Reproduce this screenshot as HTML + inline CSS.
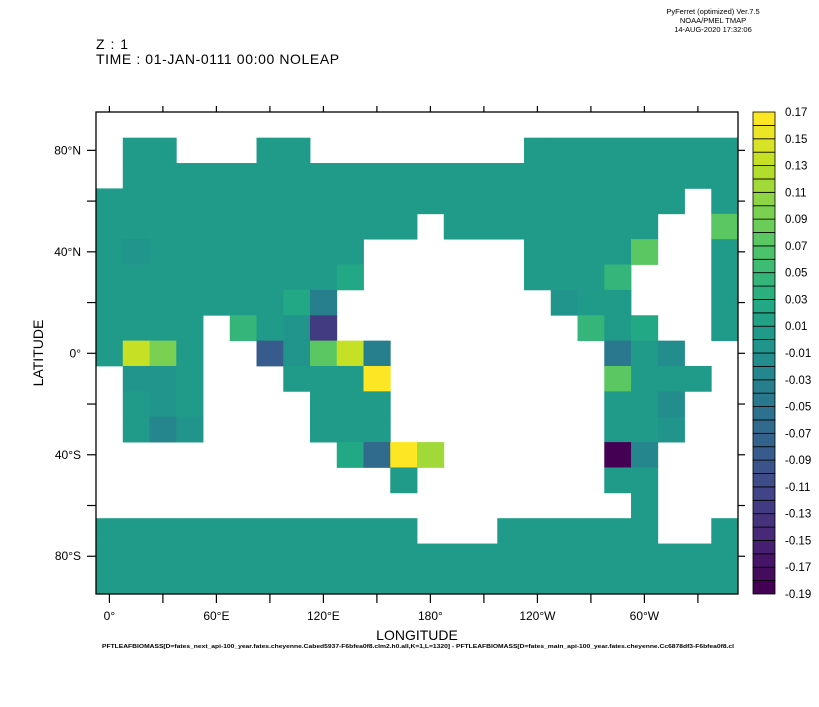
<!DOCTYPE html>
<html><head><meta charset="utf-8"><style>
html,body{margin:0;padding:0;background:#fff;}
svg{display:block;font-family:"Liberation Sans",sans-serif;}
</style></head><body>
<svg id="chart" width="819" height="707" viewBox="0 0 819 707" xmlns="http://www.w3.org/2000/svg">
<g id="header">
<text x="713" y="14" font-size="7.5" text-anchor="middle">PyFerret (optimized) Ver.7.5</text>
<text x="713" y="23" font-size="7.5" text-anchor="middle">NOAA/PMEL TMAP</text>
<text x="713" y="32" font-size="7.5" text-anchor="middle">14-AUG-2020 17:32:06</text>
<text x="96" y="49" font-size="14" letter-spacing="1">Z : 1</text>
<text x="96" y="64" font-size="14" letter-spacing="0.6">TIME : 01-JAN-0111 00:00 NOLEAP</text>
</g>
<g id="cells"></g>
<g id="axes"></g>
<g id="cbar"></g>
<text x="417" y="640" font-size="14" text-anchor="middle">LONGITUDE</text>
<text x="43" y="353" font-size="14" text-anchor="middle" transform="rotate(-90 43 353)">LATITUDE</text>
<text x="418" y="648" font-size="5.2" font-weight="bold" text-anchor="middle" textLength="632" lengthAdjust="spacingAndGlyphs">PFTLEAFBIOMASS[D=fates_next_api-100_year.fates.cheyenne.Cabed5937-F6bfea0f8.clm2.h0.all,K=1,L=1320] - PFTLEAFBIOMASS[D=fates_main_api-100_year.fates.cheyenne.Cc6878df3-F6bfea0f8.cl</text>
</svg>
<script>
const n = null, t = 0.005;
const lons = [0,15,30,45,60,75,90,105,120,135,150,165,180,195,210,225,240,255,270,285,300,315,330,345];
const lats = [90,80,70,60,50,40,30,20,10,0,-10,-20,-30,-40,-50,-60,-70,-80,-90];
const values = [
[n,n,n,n,n,n,n,n,n,n,n,n,n,n,n,n,n,n,n,n,n,n,n,n],
[n,t,t,n,n,n,t,t,n,n,n,n,n,n,n,n,t,t,t,t,t,t,t,t],
[n,t,t,t,t,t,t,t,t,t,t,t,t,t,t,t,t,t,t,t,t,t,t,t],
[t,t,t,t,t,t,t,t,t,t,t,t,t,t,t,t,t,t,t,t,t,t,n,t],
[t,t,t,t,t,t,t,t,t,t,t,t,n,t,t,t,t,t,t,t,t,n,n,0.07],
[t,-0.01,t,t,t,t,t,t,t,t,n,n,n,n,n,n,t,t,t,t,0.07,n,n,t],
[t,t,t,t,t,t,t,t,t,0.025,n,n,n,n,n,n,t,t,t,0.045,n,n,n,t],
[t,t,t,t,t,t,t,0.025,-0.04,n,n,n,n,n,n,n,n,-0.01,t,t,n,n,n,t],
[t,t,t,t,n,0.045,t,-0.01,-0.13,n,n,n,n,n,n,n,n,n,0.045,t,0.025,n,n,t],
[t,0.13,0.09,t,n,n,-0.09,-0.01,0.07,0.13,-0.04,n,n,n,n,n,n,n,n,-0.05,t,-0.02,n,n],
[n,-0.005,-0.005,t,n,n,n,t,t,t,0.17,n,n,n,n,n,n,n,n,0.07,t,t,t,n],
[n,t,-0.005,t,n,n,n,n,t,t,t,n,n,n,n,n,n,n,n,t,t,-0.02,n,n],
[n,t,-0.025,-0.005,n,n,n,n,t,t,t,n,n,n,n,n,n,n,n,t,t,-0.005,n,n],
[n,n,n,n,n,n,n,n,n,0.025,-0.065,0.17,0.11,n,n,n,n,n,n,-0.19,-0.025,n,n,n],
[n,n,n,n,n,n,n,n,n,n,n,t,n,n,n,n,n,n,n,t,t,n,n,n],
[n,n,n,n,n,n,n,n,n,n,n,n,n,n,n,n,n,n,n,n,t,n,n,n],
[t,t,t,t,t,t,t,t,t,t,t,t,n,n,n,t,t,t,t,t,t,n,n,t],
[t,t,t,t,t,t,t,t,t,t,t,t,t,t,t,t,t,t,t,t,t,t,t,t],
[t,t,t,t,t,t,t,t,t,t,t,t,t,t,t,t,t,t,t,t,t,t,t,t]
];
const xTickVals = [0,60,120,180,240,300];
const xTickLabels = ["0°","60°E","120°E","180°","120°W","60°W"];
const yTickVals = [80,40,0,-40,-80];
const yTickLabels = ["80°N","40°N","0°","40°S","80°S"];
const cbarLabels = ["0.17","0.15","0.13","0.11","0.09","0.07","0.05","0.03","0.01","-0.01","-0.03","-0.05","-0.07","-0.09","-0.11","-0.13","-0.15","-0.17","-0.19"];
const vMin = -0.19, vMax = 0.17;

const NS = "http://www.w3.org/2000/svg";
const L = 96, R = 738, T = 112, B = 594;
function xs(lon){ return 109.4 + (lon) * 642/360; }
function ys(lat){ return 353.3 - lat * 482/190; }
const dLon = 15, dLat = 10;
const anchors = ["#440154","#482475","#414487","#355f8d","#2a788e","#21918c","#22a884","#44bf70","#7ad151","#bddf26","#fde725"];
function hex(h){return [1,3,5].map(i=>parseInt(h.substr(i,2),16));}
function viridis(f){
  f=Math.max(0,Math.min(1,f)); const p=f*10; const i=Math.min(9,Math.floor(p)); const r=p-i;
  const a=hex(anchors[i]), b=hex(anchors[i+1]);
  return "rgb("+a.map((v,k)=>Math.round(v+(b[k]-v)*r)).join(",")+")";
}
const nLev = Math.round((vMax-vMin)/0.01);
function colorOf(v){ let k=Math.floor((v-vMin)/0.01+1e-9); k=Math.max(0,Math.min(nLev-1,k)); return viridis(k/(nLev-1)); }
function mk(tag, attrs, parent){ const e=document.createElementNS(NS,tag); for(const k in attrs) e.setAttribute(k,attrs[k]); parent.appendChild(e); return e; }

const cells = document.getElementById("cells");
for(let j=0;j<lats.length;j++){
  for(let i=0;i<lons.length;i++){
    const v = values[j][i]; if(v===null) continue;
    const x0 = xs(lons[i]-dLon/2), x1 = xs(lons[i]+dLon/2);
    const y0 = ys(Math.min(lats[j]+dLat/2,95)), y1 = ys(Math.max(lats[j]-dLat/2,-95));
    const r = mk("rect",{x:Math.max(L,x0).toFixed(2),y:Math.max(T,y0).toFixed(2),width:(Math.min(R,x1)-Math.max(L,x0)+0.4).toFixed(2),height:(Math.min(B,y1)-Math.max(T,y0)+0.4).toFixed(2),fill:colorOf(v)},cells);
    
    
  }
}

const ax = document.getElementById("axes");
const frame = mk("rect",{x:L,y:T,width:R-L,height:B-T,fill:"none",stroke:"#000","stroke-width":1.3},ax);


for(let lon=0;lon<360;lon+=30){
  const x=xs(lon);
  const tb = mk("line",{x1:x,x2:x,y1:B,y2:B+9,stroke:"#000","stroke-width":1.2},ax);
  
  
  const tt = mk("line",{x1:x,x2:x,y1:T,y2:T-6,stroke:"#000","stroke-width":1.2},ax);
  
  
}
for(let lat=-80;lat<=80;lat+=20){
  const y=ys(lat);
  const tl = mk("line",{x1:L-9,x2:L,y1:y,y2:y,stroke:"#000","stroke-width":1.2},ax);
  
  
  const tr = mk("line",{x1:R,x2:R+7,y1:y,y2:y,stroke:"#000","stroke-width":1.2},ax);
  
  
}
xTickVals.forEach((v,i)=>{
  const tx = mk("text",{x:xs(v),y:620,"font-size":12,"text-anchor":"middle"},ax);
  tx.textContent = xTickLabels[i];
  
  
});
yTickVals.forEach((v,i)=>{
  const tx = mk("text",{x:81,y:ys(v)+4,"font-size":12,"text-anchor":"end"},ax);
  tx.textContent = yTickLabels[i];
  
  
});

const cb = document.getElementById("cbar");
const cx0=753, cx1=775, cT=112, cB=594, bh=(cB-cT)/nLev;
for(let k=0;k<nLev;k++){
  const y = cB - (k+1)*bh;
  const r = mk("rect",{x:cx0,y:y.toFixed(2),width:cx1-cx0,height:bh.toFixed(2),fill:viridis(k/(nLev-1)),stroke:"#000","stroke-width":0.8},cb);
  
  
}
cbarLabels.forEach((s,i)=>{
  const y = cT + i*2*bh;
  const tx = mk("text",{x:785,y:(y+4).toFixed(2),"font-size":11.5},cb);
  tx.textContent = s;
  
  
});
</script>
</body></html>
